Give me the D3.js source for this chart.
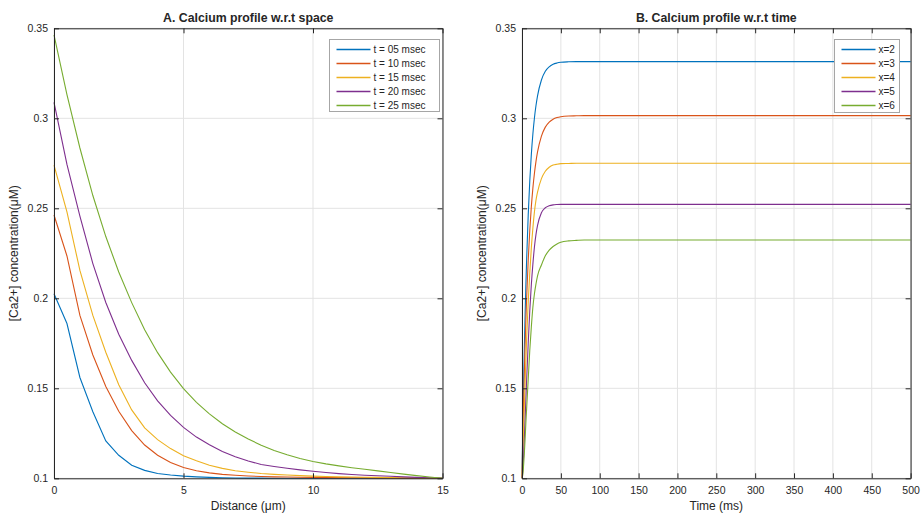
<!DOCTYPE html>
<html><head><meta charset="utf-8">
<script src="https://cdn.jsdelivr.net/npm/d3@7"></script>
<style>
body{margin:0;background:#fff}
svg{display:block}
text{font-family:"Liberation Sans",Arial,Helvetica,sans-serif;fill:#262626}
</style></head>
<body><svg id="c" width="923" height="514"></svg>
<script>
// ---------- data ----------
const distance = [0,0.5,1,1.5,2,2.5,3,3.5,4,4.5,5,5.5,6,6.5,7,7.5,8,8.5,9,9.5,10,10.5,11,11.5,12,12.5,13,13.5,14,14.5,15];
const spaceLabels = ["t = 05 msec","t = 10 msec","t = 15 msec","t = 20 msec","t = 25 msec"];
const t05 = [0.2025,0.186,0.156,0.137,0.1208,0.1128,0.1073,0.1044,0.1027,0.1018,0.1012,0.1008,0.1005,0.1003,0.1002,0.1001,0.1001,0.1,0.1,0.1,0.1,0.1,0.1,0.1,0.1,0.1,0.1,0.1,0.1,0.1,0.1];
const t10 = [0.2463,0.2235,0.1905,0.1685,0.151,0.1372,0.1265,0.1185,0.1128,0.1088,0.106,0.1042,0.103,0.1022,0.1017,0.1013,0.101,0.1008,0.1007,0.1006,0.1005,0.1004,0.1004,0.1003,0.1003,0.1002,0.1002,0.1001,0.1001,0.1,0.1];
const t15 = [0.274,0.248,0.2155,0.1905,0.17,0.152,0.138,0.128,0.1215,0.1165,0.1125,0.1097,0.1073,0.1055,0.1042,0.1034,0.1027,0.1022,0.1018,0.1015,0.1012,0.101,0.1008,0.1007,0.1006,0.1005,0.1004,0.1003,0.1002,0.1001,0.1];
const t20 = [0.3089,0.2744,0.2457,0.2193,0.1977,0.18,0.1655,0.1531,0.143,0.1349,0.1283,0.1229,0.1186,0.1149,0.112,0.1096,0.1077,0.1066,0.1056,0.1047,0.1039,0.1032,0.1026,0.1021,0.1017,0.1014,0.1011,0.1008,0.1005,0.1003,0.1];
const t25 = [0.3463,0.3132,0.2835,0.2571,0.2343,0.2146,0.1976,0.1825,0.1698,0.159,0.1498,0.1422,0.1358,0.1303,0.1257,0.1218,0.1184,0.1155,0.1131,0.111,0.1093,0.108,0.1069,0.1059,0.105,0.1041,0.1032,0.1023,0.1015,0.1007,0.1];

const time = [0,1,2,3,4,5,6,8,10,12,14,16,18,20,25,30,35,40,45,50,60,70,80,100,150,200,250,300,350,400,450,500];
const timeLabels = ["x=2","x=3","x=4","x=5","x=6"];
const x2 = [0.1,0.1272,0.1512,0.1724,0.1911,0.2076,0.2221,0.2463,0.2652,0.2799,0.2913,0.3002,0.3071,0.3125,0.3213,0.3261,0.3286,0.33,0.3307,0.3311,0.3314,0.3315,0.3315,0.3315,0.3315,0.3315,0.3315,0.3315,0.3315,0.3315,0.3315,0.3315];
const x3 = [0.1,0.1219,0.1414,0.1588,0.1743,0.1881,0.2004,0.2212,0.2377,0.2508,0.2612,0.2695,0.2761,0.2813,0.2901,0.2951,0.2979,0.2995,0.3004,0.3009,0.3013,0.3014,0.3015,0.3015,0.3015,0.3015,0.3015,0.3015,0.3015,0.3015,0.3015,0.3015];
const x4 = [0.1,0.112,0.126,0.14,0.153,0.166,0.178,0.198,0.214,0.228,0.239,0.248,0.2545,0.259,0.2665,0.2706,0.2728,0.274,0.2745,0.2748,0.2749,0.275,0.275,0.275,0.275,0.275,0.275,0.275,0.275,0.275,0.275,0.275];
const x5 = [0.1,0.104,0.112,0.122,0.133,0.144,0.155,0.175,0.193,0.2075,0.219,0.2285,0.2355,0.2405,0.2475,0.2503,0.2514,0.2519,0.2521,0.2522,0.2522,0.2522,0.2522,0.2522,0.2522,0.2522,0.2522,0.2522,0.2522,0.2522,0.2522,0.2522];
const x6 = [0.1,0.102,0.107,0.114,0.122,0.131,0.139,0.155,0.171,0.184,0.195,0.2025,0.208,0.2125,0.2185,0.2236,0.2268,0.2288,0.2302,0.2311,0.2319,0.2322,0.2324,0.2324,0.2324,0.2324,0.2324,0.2324,0.2324,0.2324,0.2324,0.2324];

const yTicks = [0.1,0.15,0.2,0.25,0.3,0.35];
const distTicks = [0,5,10,15];
const timeTicks = [0,50,100,150,200,250,300,350,400,450,500];
const colors = ["#0072BD","#D95319","#EDB120","#7E2F8E","#77AC30"];

// ---------- drawing ----------
const svg = d3.select("#c");
const plotTop = 28.3, plotBottom = 478.3;

function panel(opts){
  const {x0,x1,xDomain,xTicks,xs,series,labels,title,xlabel,legend,curve} = opts;
  const x = d3.scaleLinear().domain(xDomain).range([x0,x1]);
  const y = d3.scaleLinear().domain([0.1,0.35]).range([plotBottom,plotTop]);
  const g = svg.append("g");
  // grid
  g.append("g").selectAll("line").data(xTicks).join("line")
    .attr("x1",d=>x(d)).attr("x2",d=>x(d)).attr("y1",plotTop).attr("y2",plotBottom)
    .attr("stroke","#e3e3e3").attr("stroke-width",1);
  g.append("g").selectAll("line").data(yTicks).join("line")
    .attr("y1",d=>y(d)).attr("y2",d=>y(d)).attr("x1",x0).attr("x2",x1)
    .attr("stroke","#e3e3e3").attr("stroke-width",1);
  // lines
  const line = d3.line().x((d,i)=>x(xs[i])).y(d=>y(d)).curve(curve);
  series.forEach((s,i)=>{
    g.append("path").datum(s).attr("d",line).attr("fill","none")
      .attr("stroke",colors[i]).attr("stroke-width",1.1);
  });
  // axes
  const ax = (a)=>a.tickSizeInner(-5).tickSizeOuter(0);
  const fmt = d=>String(+d.toFixed(2));
  const b = g.append("g").attr("transform",`translate(0,${plotBottom})`)
    .call(ax(d3.axisBottom(x).tickValues(xTicks).tickFormat(fmt)).tickPadding(8));
  const l = g.append("g").attr("transform",`translate(${x0},0)`)
    .call(ax(d3.axisLeft(y).tickValues(yTicks).tickFormat(fmt)).tickPadding(6));
  const t = g.append("g").attr("transform",`translate(0,${plotTop})`)
    .call(ax(d3.axisTop(x).tickValues(xTicks).tickFormat("")));
  const r = g.append("g").attr("transform",`translate(${x1},0)`)
    .call(ax(d3.axisRight(y).tickValues(yTicks).tickFormat("")));
  [b,l,t,r].forEach(a=>{
    a.select(".domain").attr("stroke","#262626").attr("stroke-width",1);
    a.selectAll(".tick line").attr("stroke","#262626");
    a.selectAll("text").attr("font-size",10.5).attr("fill","#4d4d4d")
      .style("font-family","'Liberation Sans',Arial,sans-serif");
  });
  // title & labels
  g.append("text").attr("x",(x0+x1)/2).attr("y",22).attr("text-anchor","middle")
    .attr("font-size",12.3).attr("font-weight","bold").attr("fill","#000").text(title);
  g.append("text").attr("x",(x0+x1)/2).attr("y",510).attr("text-anchor","middle")
    .attr("font-size",12).attr("fill","#4d4d4d").text(xlabel);
  g.append("text").attr("transform",`translate(${x0-36},${(plotTop+plotBottom)/2}) rotate(-90)`)
    .attr("text-anchor","middle").attr("font-size",12).attr("fill","#4d4d4d")
    .text("[Ca2+] concentration(\u03bcM)");
  // legend
  const lg = g.append("g");
  lg.append("rect").attr("x",legend.x).attr("y",legend.y).attr("width",legend.w).attr("height",legend.h)
    .attr("fill","#fff").attr("stroke","#a6a6a6").attr("stroke-width",1);
  labels.forEach((lab,i)=>{
    const yy = legend.y + 10 + i*14;
    lg.append("line").attr("x1",legend.x+7).attr("x2",legend.x+41).attr("y1",yy).attr("y2",yy)
      .attr("stroke",colors[i]).attr("stroke-width",1.3);
    lg.append("text").attr("x",legend.x+44).attr("y",yy).attr("dy","0.35em")
      .attr("font-size",10).attr("fill","#000").text(lab);
  });
}

panel({x0:54,x1:442.5,xDomain:[0,15],xTicks:distTicks,xs:distance,
  series:[t05,t10,t15,t20,t25],labels:spaceLabels,curve:d3.curveLinear,
  title:"A. Calcium profile w.r.t space",xlabel:"Distance (\u03bcm)",
  legend:{x:329.5,y:39.5,w:110,h:72}});
panel({x0:522,x1:910.6,xDomain:[0,500],xTicks:timeTicks,xs:time,
  series:[x2,x3,x4,x5,x6],labels:timeLabels,curve:d3.curveMonotoneX,
  title:"B. Calcium profile w.r.t time",xlabel:"Time (ms)",
  legend:{x:834.5,y:39.5,w:65,h:73}});
</script></body></html>
